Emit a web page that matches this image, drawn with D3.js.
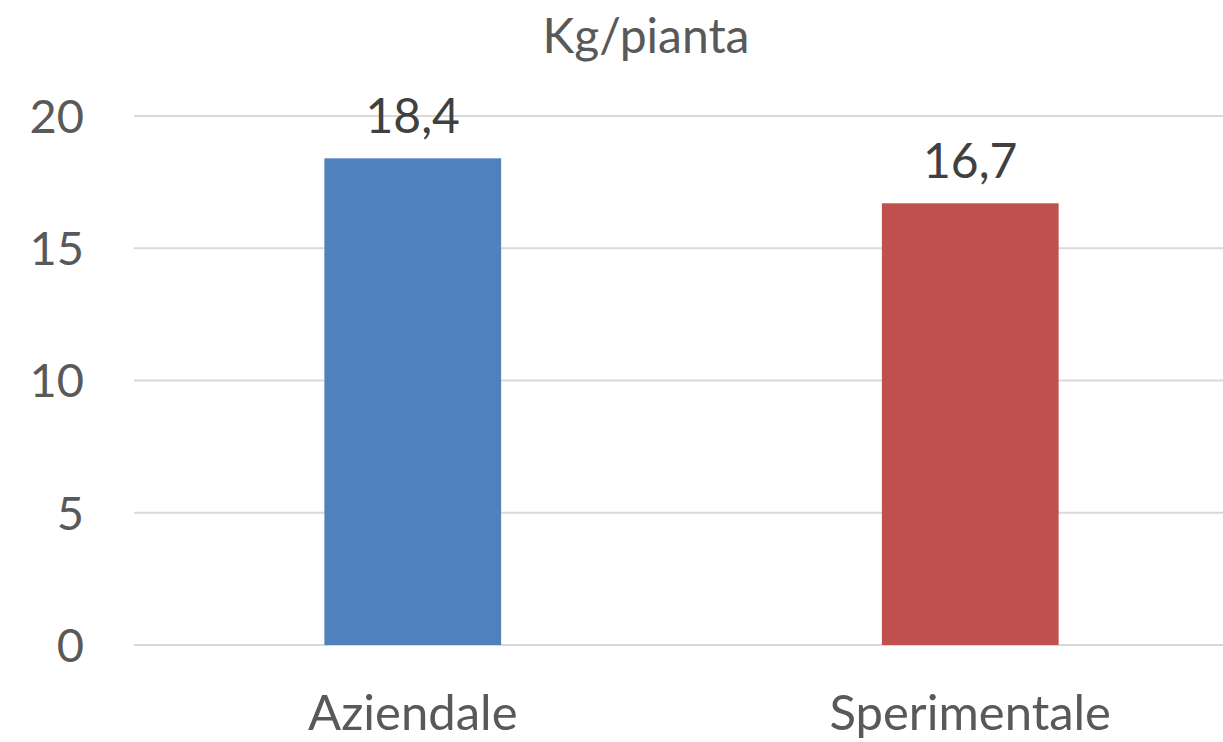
<!DOCTYPE html>
<html>
<head>
<meta charset="utf-8">
<script src="https://cdn.jsdelivr.net/npm/d3@7"></script>
<style>
  body { margin: 0; background: #fff; }
  text { font-family: Lato, "Open Sans", sans-serif; }
</style>
</head>
<body>
<div id="chart"></div>
<script>
let w = 1223;
let h = 742;

let categories = ['Aziendale', 'Sperimentale'];
let values = [18.4, 16.7];
let labels = ['18,4', '16,7'];
let colors = ['#4F81BD', '#C0504D'];
let ticks = [0, 5, 10, 15, 20];
let title = 'Kg/pianta';

let svg = d3.select('#chart').
append('svg').
attr('width', w).
attr('height', h);

let x = d3.scaleBand().
domain(categories).
range([134, 1249]).
paddingInner(0.683).
paddingOuter(0.3415);

let y = d3.scaleLinear().
domain([0, 20]).
range([645, 116]);

// gridlines
svg.append('g').
selectAll('line').
data(ticks).
join('line').
attr('x1', 134).
attr('x2', w).
attr('y1', d => y(d)).
attr('y2', d => y(d)).
attr('stroke', '#d9d9d9').
attr('stroke-width', 2);

// y tick labels
svg.append('g').
selectAll('text').
data(ticks).
join('text').
attr('x', 84).
attr('y', d => y(d)).
attr('dy', '0.36em').
attr('text-anchor', 'end').
attr('fill', '#595959').
style('font-size', '47px').
text(d => d);

// bars
svg.append('g').
selectAll('rect').
data(categories).
join('rect').
attr('x', d => x(d)).
attr('width', x.bandwidth()).
attr('y', (d, i) => y(values[i])).
attr('height', (d, i) => y(0) - y(values[i])).
attr('fill', (d, i) => colors[i]);

// data labels
svg.append('g').
selectAll('text').
data(categories).
join('text').
attr('x', d => x(d) + x.bandwidth() / 2).
attr('y', (d, i) => y(values[i]) - 25).
attr('text-anchor', 'middle').
attr('fill', '#404040').
style('font-size', '48px').
text((d, i) => labels[i]);

// category labels
svg.append('g').
selectAll('text').
data(categories).
join('text').
attr('x', d => x(d) + x.bandwidth() / 2).
attr('y', 730).
attr('text-anchor', 'middle').
attr('fill', '#595959').
style('font-size', '49px').
text(d => d);

// title
svg.append('text').
attr('x', 646).
attr('y', 53).
attr('text-anchor', 'middle').
attr('fill', '#595959').
style('font-size', '48px').
text(title);
</script>
</body>
</html>
